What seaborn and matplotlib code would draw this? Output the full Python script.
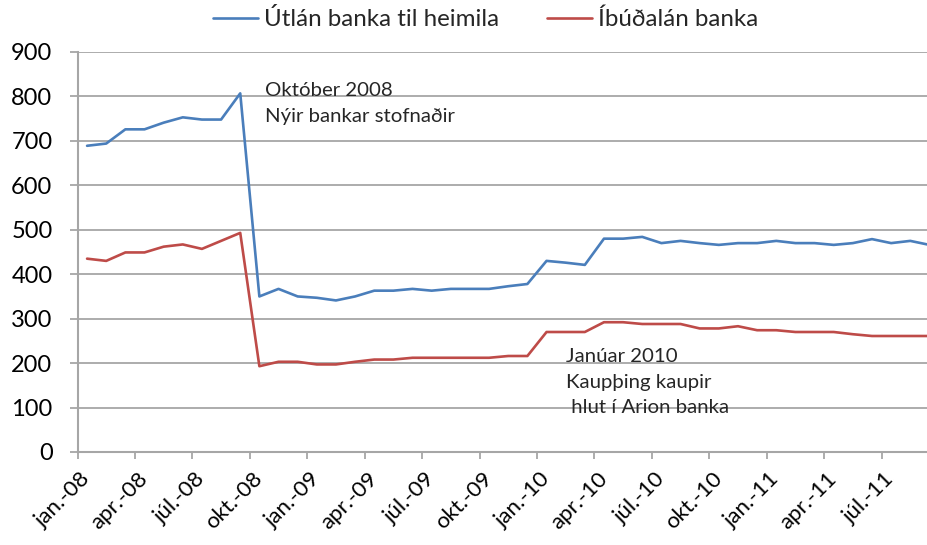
import pandas as pd
import seaborn as sns
import matplotlib.pyplot as plt

sns.set_theme(style="white")
plt.rcParams['font.family'] = ['Lato', 'DejaVu Sans']

months = ['jan', 'feb', 'mar', 'apr', 'maí', 'jún', 'júl', 'ágú', 'sep', 'okt', 'nóv', 'des']
periods = [f"{m}.-{y:02d}" for y in (8, 9, 10, 11) for m in months][:45]

utlan = [689, 694, 726, 726, 741, 753, 748, 748, 807,
         350, 367, 350, 347, 341, 350, 363, 363, 367, 363, 367, 367, 367, 373, 378,
         430, 426, 421, 480, 480, 484, 470, 475, 470, 466, 470, 470,
         475, 470, 470, 466, 470, 479, 470, 475, 466]
ibudalan = [435, 430, 449, 449, 462, 467, 457, 475, 493,
            193, 203, 203, 197, 197, 203, 208, 208, 212, 212, 212, 212, 212, 216, 216,
            270, 270, 270, 292, 292, 288, 288, 288, 278, 278, 283, 274,
            274, 270, 270, 270, 265, 261, 261, 261, 261]

series_names = ['Útlán banka til heimila', 'Íbúðalán banka']
colors = ['#4A7EBB', '#BE4B48']

notes = [
    (9.3, [801, 743], ['Október 2008', 'Nýir bankar stofnaðir']),
    (25.0, [202, 144, 88], ['Janúar 2010', 'Kaupþing kaupir', ' hlut í Arion banka']),
]

df = pd.DataFrame({
    'idx': list(range(len(periods))) * 2,
    'value': utlan + ibudalan,
    'series': [series_names[0]] * len(utlan) + [series_names[1]] * len(ibudalan),
})

fig = plt.figure(figsize=(9.27, 5.45), dpi=100)
ax = fig.add_axes([77.5 / 927, 1 - 452 / 545, (939 - 77.5) / 927, 400 / 545])

sns.lineplot(data=df, x='idx', y='value', hue='series', palette=colors,
             linewidth=1.9, ax=ax)

ax.set_xlim(-0.5, 44.5)
ax.set_ylim(0, 900)
ax.set_yticks(range(0, 901, 100))

# labels at category centres, tick marks at category boundaries
ax.set_xticks(list(range(0, 45, 3)))
ax.set_xticklabels(periods[::3], rotation=45, ha='right', va='center',
                   rotation_mode='anchor')
ax.set_xticks([i - 0.5 for i in range(0, 45, 3)], minor=True)

grey = '#A6A6A6'
ax.yaxis.grid(True, color=grey, linewidth=1.3)
ax.set_axisbelow(True)
for s in ['top', 'right']:
    ax.spines[s].set_visible(False)
for s in ['left', 'bottom']:
    ax.spines[s].set_color(grey)
    ax.spines[s].set_linewidth(1.5)
ax.tick_params(axis='y', left=True, length=6, width=1.3, color=grey, pad=12,
               labelsize=17, labelcolor='black')
ax.tick_params(axis='x', which='major', bottom=True, length=0, pad=17,
               labelsize=16, labelcolor='black')
ax.tick_params(axis='x', which='minor', bottom=True, length=5, width=1.3, color=grey)
ax.set_xlabel('')
ax.set_ylabel('')

for x, ys, lines in notes:
    for y, line in zip(ys, lines):
        ax.text(x, y, line, fontsize=14.7, va='baseline', ha='left')

handles, labels = ax.get_legend_handles_labels()
ax.legend(handles, labels, loc='center', bbox_to_anchor=(485.5 / 927, 1 - 19 / 545),
          bbox_transform=fig.transFigure, ncol=2, frameon=False, fontsize=17.4,
          handlelength=1.86, handletextpad=0.25, columnspacing=2.0)

fig.savefig('out.png', dpi=100)
